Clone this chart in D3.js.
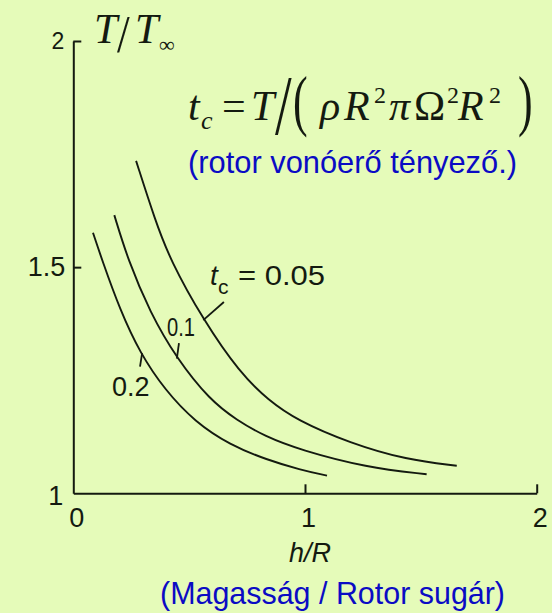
<!DOCTYPE html>
<html>
<head>
<meta charset="utf-8">
<script src="https://cdn.jsdelivr.net/npm/d3@7/dist/d3.min.js"></script>
<style>
  html, body { margin: 0; padding: 0; background: #e5fbb9; }
  svg { display: block; }
</style>
</head>
<body>
<svg id="chart" width="552" height="613"></svg>
<script>
// Thrust ratio T/T∞ versus height over rotor radius, one curve per thrust coefficient
const tcValues = [0.05, 0.1, 0.2];
const curve005 = [[0.271,1.735],[0.353,1.604],[0.418,1.516],[0.561,1.383],[0.719,1.266],[0.842,1.206],[0.964,1.162],[1.194,1.111],[1.439,1.074],[1.655,1.061]];
const curve01  = [[0.177,1.615],[0.236,1.516],[0.331,1.400],[0.446,1.298],[0.590,1.206],[0.705,1.162],[0.827,1.126],[0.979,1.096],[1.266,1.057],[1.525,1.042]];
const curve02  = [[0.085,1.576],[0.124,1.516],[0.202,1.405],[0.288,1.310],[0.396,1.228],[0.525,1.158],[0.676,1.107],[0.836,1.074],[0.979,1.052],[1.095,1.039]];
const xTicks = [0, 1, 2];
const yTicks = [1, 1.5, 2];
const yTickLabels = ["1", "1.5", "2"];

const svg = d3.select("#chart");
const x = d3.scaleLinear().domain([0, 2]).range([73.3, 536.7]);
const y = d3.scaleLinear().domain([1, 2]).range([493.3, 41]);
const ink = "#141a10";
const blue = "#0b0bc4";
const sans = "Liberation Sans, Arial, sans-serif";
const serif = "Liberation Serif, Times New Roman, serif";

// axes with inward ticks
const gx = svg.append("g").attr("transform", `translate(0,${y(1)})`)
  .call(d3.axisBottom(x).tickValues(xTicks).tickSizeInner(-9).tickSizeOuter(0).tickPadding(15).tickFormat(d3.format("d")));
const gy = svg.append("g").attr("transform", `translate(${x(0)},0)`)
  .call(d3.axisLeft(y).tickValues(yTicks).tickSizeInner(-8).tickSizeOuter(0).tickPadding(8)
    .tickFormat((d, i) => yTickLabels[i]));
[gx, gy].forEach(g => {
  g.select(".domain").attr("stroke", ink).attr("stroke-width", 2);
  g.selectAll(".tick line").attr("stroke", ink).attr("stroke-width", 2);
  g.selectAll(".tick text").attr("fill", ink).attr("font-family", sans).attr("font-size", 27);
});
gx.selectAll(".tick line").filter(d => d === 0).remove();
gx.selectAll(".tick text").attr("dx", 3);
gy.selectAll(".tick line").filter(d => d === 1).remove();
gy.selectAll(".tick text").filter(d => d === 2).attr("font-size", 23).attr("dx", -1);
gy.selectAll(".tick text").filter(d => d === 1).attr("dy", "0.42em").attr("dx", -2);

// curves
const line = d3.line().x(d => x(d[0])).y(d => y(d[1])).curve(d3.curveBasis);
[curve005, curve01, curve02].forEach(c => {
  svg.append("path").datum(c).attr("d", line)
    .attr("fill", "none").attr("stroke", ink).attr("stroke-width", 1.9);
});

// leader lines from each curve to its label
const leaders = [
  [[0.561, 1.383], [0.650, 1.423]],
  [[0.447, 1.298], [0.456, 1.332]],
  [[0.297, 1.310], [0.288, 1.280]]
];
leaders.forEach(l => {
  svg.append("line")
    .attr("x1", x(l[0][0])).attr("y1", y(l[0][1]))
    .attr("x2", x(l[1][0])).attr("y2", y(l[1][1]))
    .attr("stroke", ink).attr("stroke-width", 1.8);
});

// curve labels
const lab1 = svg.append("text").attr("fill", ink).attr("font-family", sans).attr("font-size", 28);
lab1.append("tspan").attr("x", 210).attr("y", 285).attr("font-style", "italic").text("t");
lab1.append("tspan").attr("x", 218).attr("y", 294).attr("font-size", 21).text("c");
svg.append("text").attr("x", 238).attr("y", 285).attr("fill", ink).attr("font-family", sans)
  .attr("font-size", 28).attr("textLength", 87).attr("lengthAdjust", "spacingAndGlyphs")
  .text("= " + tcValues[0]);
svg.append("text").attr("x", 167).attr("y", 336).attr("fill", ink).attr("font-family", sans)
  .attr("font-size", 26).attr("textLength", 28).attr("lengthAdjust", "spacingAndGlyphs").text(tcValues[1]);
svg.append("text").attr("x", 112).attr("y", 396).attr("fill", ink).attr("font-family", sans)
  .attr("font-size", 27).text(tcValues[2]);

// axis titles
const yt = svg.append("text").attr("fill", ink).attr("font-family", serif);
yt.append("tspan").attr("x", 94).attr("y", 43).attr("font-size", 42).attr("font-style", "italic").text("T");
yt.append("tspan").attr("x", 135).attr("y", 43).attr("font-size", 42).attr("font-style", "italic").text("T");
yt.append("tspan").attr("x", 159).attr("y", 52).attr("font-size", 22).text("∞");
svg.append("text").attr("transform", "translate(117,52) scale(1.2,1.4)")
  .attr("fill", ink).attr("font-family", serif).attr("font-size", 38).text("/");

svg.append("text").attr("x", 310).attr("y", 562).attr("text-anchor", "middle").attr("fill", ink)
  .attr("font-family", sans).attr("font-size", 27).attr("font-style", "italic").text("h/R");
svg.append("text").attr("x", 160).attr("y", 604).attr("fill", blue).attr("font-family", sans)
  .attr("font-size", 32).attr("textLength", 345).attr("lengthAdjust", "spacingAndGlyphs")
  .text("(Magasság / Rotor sugár)");

// thrust coefficient definition
const fb = 120;
const f = svg.append("text").attr("fill", ink).attr("font-family", serif).attr("font-size", 42);
f.append("tspan").attr("x", 188).attr("y", fb).attr("font-style", "italic").text("t");
f.append("tspan").attr("x", 201).attr("y", fb + 9).attr("font-size", 26).attr("font-style", "italic").text("c");
f.append("tspan").attr("x", 222).attr("y", fb).text("=");
f.append("tspan").attr("x", 251).attr("y", fb).attr("font-style", "italic").text("T");
f.append("tspan").attr("x", 320).attr("y", fb).attr("font-style", "italic").text("ρ");
f.append("tspan").attr("x", 344).attr("y", fb).attr("font-style", "italic").text("R");
f.append("tspan").attr("x", 374).attr("y", fb - 17).attr("font-size", 24).text("2");
f.append("tspan").attr("x", 389).attr("y", fb).attr("font-style", "italic").text("π");
f.append("tspan").attr("x", 414).attr("y", fb).text("Ω");
f.append("tspan").attr("x", 447).attr("y", fb - 17).attr("font-size", 24).text("2");
f.append("tspan").attr("x", 458).attr("y", fb).attr("font-style", "italic").text("R");
f.append("tspan").attr("x", 489).attr("y", fb - 17).attr("font-size", 24).text("2");
// stretched delimiters
const delim = (s, tx, ty, sx, sy, fs) => svg.append("text")
  .attr("transform", `translate(${tx},${ty}) scale(${sx},${sy})`)
  .attr("fill", ink).attr("font-family", serif).attr("font-size", fs).text(s);
delim("/", 275, 134, 1.3, 1.85, 46);
delim("(", 293, 123, 1, 1.52, 44);
delim(")", 518, 123, 1, 1.52, 44);

svg.append("text").attr("x", 188).attr("y", 173).attr("fill", blue).attr("font-family", sans)
  .attr("font-size", 32).attr("textLength", 329).attr("lengthAdjust", "spacingAndGlyphs")
  .text("(rotor vonóerő tényező.)");
</script>
</body>
</html>
